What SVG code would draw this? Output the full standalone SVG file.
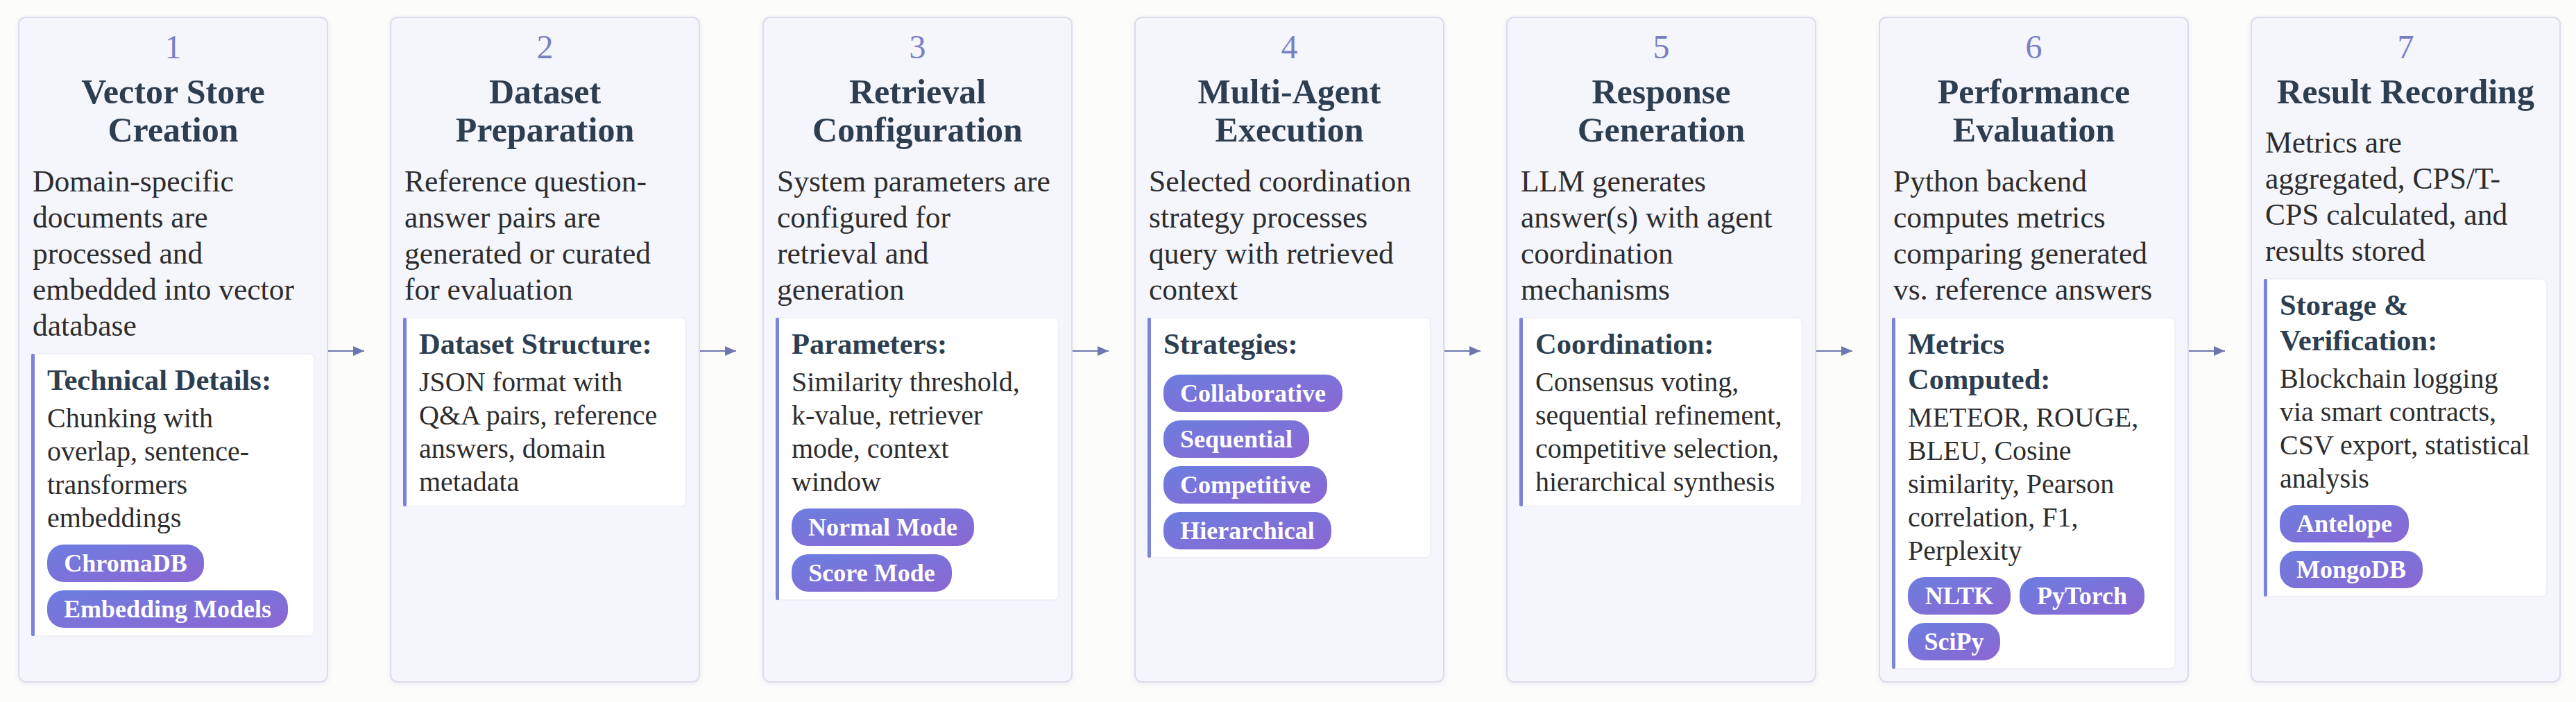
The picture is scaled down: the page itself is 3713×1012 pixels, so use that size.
<svg xmlns="http://www.w3.org/2000/svg" width="3713" height="1012" viewBox="0 0 3713 1012">
<defs>
<style>
text{font-family:"Liberation Serif","Times New Roman",serif}
.card{fill:#f5f5fc;stroke:#dcdcee;stroke-width:2}
.num{font-size:48px;fill:#7880c4;text-anchor:middle}
.ttl{font-size:50px;font-weight:bold;fill:#2c3e50;text-anchor:middle}
.desc{font-size:43.5px;fill:#2d2d2d}
.box{fill:#ffffff;stroke:#ececf5;stroke-width:1.5}
.bar{fill:#7c84d9}
.bt{font-size:42.5px;font-weight:bold;fill:#2c3e50}
.body{font-size:40px;fill:#2d2d2d}
.pill{fill:url(#pg)}
.pt{font-size:36px;font-weight:bold;fill:#ffffff;text-anchor:middle}
.conn{stroke:#6e76b0;stroke-width:2;fill:none;marker-end:url(#ah)}
</style>
<linearGradient id="pg" x1="0" y1="0" x2="1" y2="1">
<stop offset="0" stop-color="#6c7ee0"/>
<stop offset="1" stop-color="#8c66d2"/>
</linearGradient>
<marker id="ah" markerUnits="userSpaceOnUse" markerWidth="16" markerHeight="14" refX="16" refY="7" viewBox="0 0 16 14" orient="auto">
<path d="M0,0 L16,7 L0,14 z" fill="#6e76b0"/>
</marker>
<filter id="sh" x="-5%" y="-5%" width="110%" height="110%">
<feDropShadow dx="0" dy="2" stdDeviation="3" flood-color="#6060a0" flood-opacity="0.10"/>
</filter>
</defs>
<rect x="0" y="0" width="3713" height="1012" fill="#fcfcfa"/>

<g id="connectors">
<line class="conn" x1="473" y1="506" x2="525" y2="506"/>
<line class="conn" x1="1009" y1="506" x2="1061" y2="506"/>
<line class="conn" x1="1546" y1="506" x2="1598" y2="506"/>
<line class="conn" x1="2082" y1="506" x2="2134" y2="506"/>
<line class="conn" x1="2618" y1="506" x2="2670" y2="506"/>
<line class="conn" x1="3155" y1="506" x2="3207" y2="506"/>
</g>

<g id="step1" transform="translate(27,0)">
<rect class="card" x="0" y="25" width="445" height="958" rx="10" filter="url(#sh)"/>
<text class="num" x="222.5" y="84">1</text>
<text class="ttl" x="222.5" y="149">Vector Store</text>
<text class="ttl" x="222.5" y="204">Creation</text>
<text class="desc" x="20" y="276">Domain-specific</text>
<text class="desc" x="20" y="328">documents are</text>
<text class="desc" x="20" y="380">processed and</text>
<text class="desc" x="20" y="432">embedded into vector</text>
<text class="desc" x="20" y="484">database</text>
<rect class="box" x="18" y="510" width="408" height="407" rx="8"/>
<rect class="bar" x="18" y="510" width="5" height="407" rx="2"/>
<text class="bt" x="41" y="562">Technical Details:</text>
<text class="body" x="41" y="616">Chunking with</text>
<text class="body" x="41" y="664">overlap, sentence-</text>
<text class="body" x="41" y="712">transformers</text>
<text class="body" x="41" y="760">embeddings</text>
<rect class="pill" x="41" y="785" width="226" height="54" rx="24"/>
<text class="pt" x="154" y="824">ChromaDB</text>
<rect class="pill" x="41" y="851" width="347" height="54" rx="24"/>
<text class="pt" x="214.5" y="890">Embedding Models</text>
</g>

<g id="step2" transform="translate(563,0)">
<rect class="card" x="0" y="25" width="445" height="958" rx="10" filter="url(#sh)"/>
<text class="num" x="222.5" y="84">2</text>
<text class="ttl" x="222.5" y="149">Dataset</text>
<text class="ttl" x="222.5" y="204">Preparation</text>
<text class="desc" x="20" y="276">Reference question-</text>
<text class="desc" x="20" y="328">answer pairs are</text>
<text class="desc" x="20" y="380">generated or curated</text>
<text class="desc" x="20" y="432">for evaluation</text>
<rect class="box" x="18" y="458" width="408" height="272" rx="8"/>
<rect class="bar" x="18" y="458" width="5" height="272" rx="2"/>
<text class="bt" x="41" y="510">Dataset Structure:</text>
<text class="body" x="41" y="564">JSON format with</text>
<text class="body" x="41" y="612">Q&amp;A pairs, reference</text>
<text class="body" x="41" y="660">answers, domain</text>
<text class="body" x="41" y="708">metadata</text>
</g>

<g id="step3" transform="translate(1100,0)">
<rect class="card" x="0" y="25" width="445" height="958" rx="10" filter="url(#sh)"/>
<text class="num" x="222.5" y="84">3</text>
<text class="ttl" x="222.5" y="149">Retrieval</text>
<text class="ttl" x="222.5" y="204">Configuration</text>
<text class="desc" x="20" y="276">System parameters are</text>
<text class="desc" x="20" y="328">configured for</text>
<text class="desc" x="20" y="380">retrieval and</text>
<text class="desc" x="20" y="432">generation</text>
<rect class="box" x="18" y="458" width="408" height="407" rx="8"/>
<rect class="bar" x="18" y="458" width="5" height="407" rx="2"/>
<text class="bt" x="41" y="510">Parameters:</text>
<text class="body" x="41" y="564">Similarity threshold,</text>
<text class="body" x="41" y="612">k-value, retriever</text>
<text class="body" x="41" y="660">mode, context</text>
<text class="body" x="41" y="708">window</text>
<rect class="pill" x="41" y="733" width="263" height="54" rx="24"/>
<text class="pt" x="172.5" y="772">Normal Mode</text>
<rect class="pill" x="41" y="799" width="231" height="54" rx="24"/>
<text class="pt" x="156.5" y="838">Score Mode</text>
</g>

<g id="step4" transform="translate(1636,0)">
<rect class="card" x="0" y="25" width="445" height="958" rx="10" filter="url(#sh)"/>
<text class="num" x="222.5" y="84">4</text>
<text class="ttl" x="222.5" y="149">Multi-Agent</text>
<text class="ttl" x="222.5" y="204">Execution</text>
<text class="desc" x="20" y="276">Selected coordination</text>
<text class="desc" x="20" y="328">strategy processes</text>
<text class="desc" x="20" y="380">query with retrieved</text>
<text class="desc" x="20" y="432">context</text>
<rect class="box" x="18" y="458" width="408" height="346" rx="8"/>
<rect class="bar" x="18" y="458" width="5" height="346" rx="2"/>
<text class="bt" x="41" y="510">Strategies:</text>
<rect class="pill" x="41" y="540" width="258" height="54" rx="24"/>
<text class="pt" x="170" y="579">Collaborative</text>
<rect class="pill" x="41" y="606" width="210" height="54" rx="24"/>
<text class="pt" x="146" y="645">Sequential</text>
<rect class="pill" x="41" y="672" width="236" height="54" rx="24"/>
<text class="pt" x="159" y="711">Competitive</text>
<rect class="pill" x="41" y="738" width="242" height="54" rx="24"/>
<text class="pt" x="162" y="777">Hierarchical</text>
</g>

<g id="step5" transform="translate(2172,0)">
<rect class="card" x="0" y="25" width="445" height="958" rx="10" filter="url(#sh)"/>
<text class="num" x="222.5" y="84">5</text>
<text class="ttl" x="222.5" y="149">Response</text>
<text class="ttl" x="222.5" y="204">Generation</text>
<text class="desc" x="20" y="276">LLM generates</text>
<text class="desc" x="20" y="328">answer(s) with agent</text>
<text class="desc" x="20" y="380">coordination</text>
<text class="desc" x="20" y="432">mechanisms</text>
<rect class="box" x="18" y="458" width="408" height="272" rx="8"/>
<rect class="bar" x="18" y="458" width="5" height="272" rx="2"/>
<text class="bt" x="41" y="510">Coordination:</text>
<text class="body" x="41" y="564">Consensus voting,</text>
<text class="body" x="41" y="612">sequential refinement,</text>
<text class="body" x="41" y="660">competitive selection,</text>
<text class="body" x="41" y="708">hierarchical synthesis</text>
</g>

<g id="step6" transform="translate(2709,0)">
<rect class="card" x="0" y="25" width="445" height="958" rx="10" filter="url(#sh)"/>
<text class="num" x="222.5" y="84">6</text>
<text class="ttl" x="222.5" y="149">Performance</text>
<text class="ttl" x="222.5" y="204">Evaluation</text>
<text class="desc" x="20" y="276">Python backend</text>
<text class="desc" x="20" y="328">computes metrics</text>
<text class="desc" x="20" y="380">comparing generated</text>
<text class="desc" x="20" y="432">vs. reference answers</text>
<rect class="box" x="18" y="458" width="408" height="506" rx="8"/>
<rect class="bar" x="18" y="458" width="5" height="506" rx="2"/>
<text class="bt" x="41" y="510">Metrics</text>
<text class="bt" x="41" y="561">Computed:</text>
<text class="body" x="41" y="615">METEOR, ROUGE,</text>
<text class="body" x="41" y="663">BLEU, Cosine</text>
<text class="body" x="41" y="711">similarity, Pearson</text>
<text class="body" x="41" y="759">correlation, F1,</text>
<text class="body" x="41" y="807">Perplexity</text>
<rect class="pill" x="41" y="832" width="148" height="54" rx="24"/>
<text class="pt" x="115" y="871">NLTK</text>
<rect class="pill" x="202" y="832" width="180" height="54" rx="24"/>
<text class="pt" x="292" y="871">PyTorch</text>
<rect class="pill" x="41" y="898" width="133" height="54" rx="24"/>
<text class="pt" x="107.5" y="937">SciPy</text>
</g>

<g id="step7" transform="translate(3245,0)">
<rect class="card" x="0" y="25" width="445" height="958" rx="10" filter="url(#sh)"/>
<text class="num" x="222.5" y="84">7</text>
<text class="ttl" x="222.5" y="149">Result Recording</text>
<text class="desc" x="20" y="220">Metrics are</text>
<text class="desc" x="20" y="272">aggregated, CPS/T-</text>
<text class="desc" x="20" y="324">CPS calculated, and</text>
<text class="desc" x="20" y="376">results stored</text>
<rect class="box" x="18" y="402" width="408" height="458" rx="8"/>
<rect class="bar" x="18" y="402" width="5" height="458" rx="2"/>
<text class="bt" x="41" y="454">Storage &amp;</text>
<text class="bt" x="41" y="505">Verification:</text>
<text class="body" x="41" y="559">Blockchain logging</text>
<text class="body" x="41" y="607">via smart contracts,</text>
<text class="body" x="41" y="655">CSV export, statistical</text>
<text class="body" x="41" y="703">analysis</text>
<rect class="pill" x="41" y="728" width="186" height="54" rx="24"/>
<text class="pt" x="134" y="767">Antelope</text>
<rect class="pill" x="41" y="794" width="206" height="54" rx="24"/>
<text class="pt" x="144" y="833">MongoDB</text>
</g>
</svg>
